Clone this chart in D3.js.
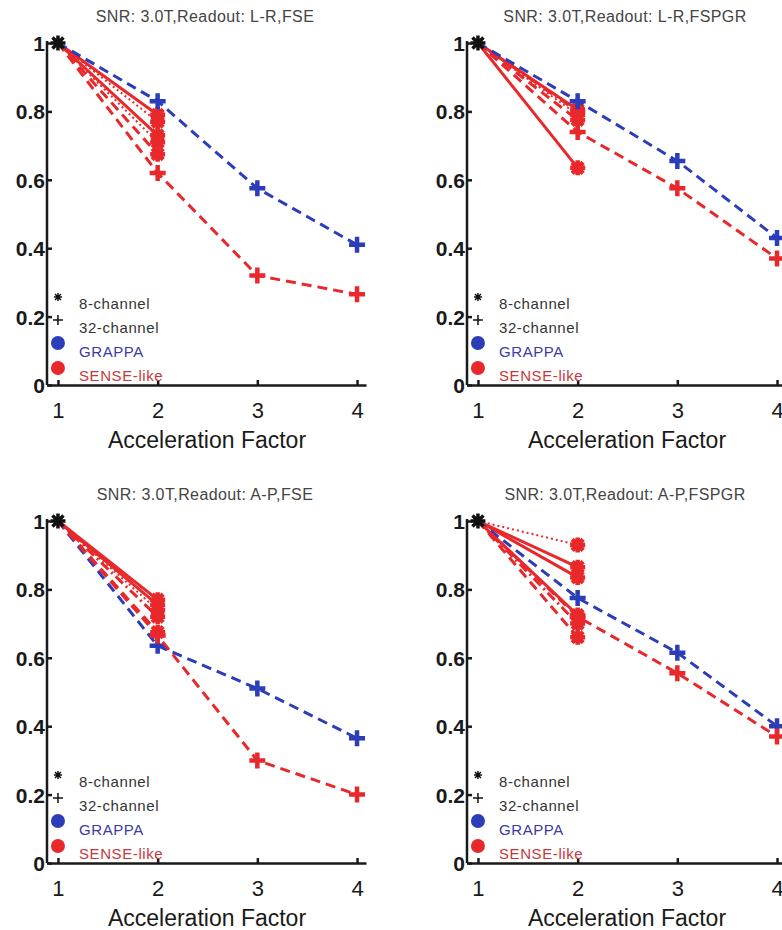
<!DOCTYPE html>
<html>
<head>
<meta charset="utf-8">
<script src="https://cdn.jsdelivr.net/npm/d3@7"></script>
<style>
  body { margin: 0; background: #fff; }
  svg { display: block; }
</style>
</head>
<body>
<svg id="chart" width="782" height="930"></svg>
<script>
const titles = [
  "SNR: 3.0T,Readout: L-R,FSE",
  "SNR: 3.0T,Readout: L-R,FSPGR",
  "SNR: 3.0T,Readout: A-P,FSE",
  "SNR: 3.0T,Readout: A-P,FSPGR"
];
const factors = [1, 2, 3, 4];
const yTicks = [0, 0.2, 0.4, 0.6, 0.8, 1];

// 32-channel, all factors
const grappa32 = [
  [1, 0.83, 0.575, 0.41],
  [1, 0.83, 0.655, 0.43],
  [1, 0.635, 0.51, 0.365],
  [1, 0.775, 0.615, 0.40]
];
const sense32 = [
  [1, 0.62, 0.32, 0.265],
  [1, 0.74, 0.575, 0.37],
  [1, 0.665, 0.30, 0.20],
  [1, 0.72, 0.555, 0.37]
];
// 8-channel SENSE-like, R = 2 only (several coil setups)
const sense8 = [
  [0.79, 0.73, 0.77, 0.71, 0.675],
  [0.805, 0.635, 0.79, 0.775, 0.80],
  [0.77, 0.755, 0.74, 0.72, 0.675],
  [0.93, 0.865, 0.835, 0.725, 0.70, 0.66]
];
const legendLabels = ["8-channel", "32-channel", "GRAPPA", "SENSE-like"];

const blue = "#2b3db8";
const red = "#e8282b";
const dashes = {
  solid: null,
  dashed: "10,6",
  dotted: "2,3",
  dashdot: "10,4,2,4"
};
const sense8Styles = [
  ["solid", "solid", "dotted", "dotted", "dashed"],
  ["solid", "solid", "dotted", "dashed", "dashdot"],
  ["solid", "solid", "dotted", "dashdot", "dashed"],
  ["dotted", "solid", "solid", "solid", "dashdot", "dashed"]
];

const svg = d3.select("#chart");
const origins = [[47, 43], [467, 43], [47, 521], [467, 521]];

const plusPath = "M-8,0H8M0,-8V8";
const starPath = "M-7.5,0H7.5M0,-7.5V7.5M-5.5,-5.5L5.5,5.5M-5.5,5.5L5.5,-5.5";

function drawPanel(i) {
  const [ox, oy] = origins[i];
  const x = d3.scaleLinear().domain([0.89, 4.09]).range([ox, ox + 319]);
  const y = d3.scaleLinear().domain([0, 1]).range([oy + 342, oy]);
  const g = svg.append("g");

  const line = d3.line().x(d => x(d[0])).y(d => y(d[1]));

  // 8-channel lines
  sense8[i].forEach((v, k) => {
    const style = sense8Styles[i][k];
    g.append("path")
      .attr("d", line([[1, 1], [2, v]]))
      .attr("fill", "none")
      .attr("stroke", red)
      .attr("stroke-width", style === "dotted" ? 2 : 3)
      .attr("stroke-dasharray", dashes[style]);
  });
  sense8[i].forEach(v => {
    g.append("path")
      .attr("d", starPath)
      .attr("transform", `translate(${x(2)},${y(v)})`)
      .attr("stroke", red)
      .attr("stroke-width", 4.5)
      .attr("fill", "none");
  });

  // 32-channel lines
  [[grappa32[i], blue], [sense32[i], red]].forEach(([vals, col]) => {
    const pts = factors.map((f, k) => [f, vals[k]]);
    g.append("path")
      .attr("d", line(pts))
      .attr("fill", "none")
      .attr("stroke", col)
      .attr("stroke-width", 3)
      .attr("stroke-dasharray", dashes.dashed);
    g.selectAll(null)
      .data(pts.slice(1))
      .enter()
      .append("path")
      .attr("d", plusPath)
      .attr("transform", d => `translate(${x(d[0])},${y(d[1])})`)
      .attr("stroke", col)
      .attr("stroke-width", 4.5)
      .attr("fill", "none");
  });

  g.append("path")
    .attr("d", starPath)
    .attr("transform", `translate(${x(1)},${y(1)})`)
    .attr("stroke", "#111")
    .attr("stroke-width", 3.5)
    .attr("fill", "none");

  // axes
  const yAxis = g.append("g")
    .attr("transform", `translate(${ox},0)`)
    .call(d3.axisLeft(y).tickValues(yTicks).tickFormat(d3.format("")).tickSizeInner(-5).tickSizeOuter(0).tickPadding(2));
  yAxis.select(".domain").attr("d", `M0,${y(0)}V${y(1) - 2}`);
  yAxis.selectAll("text")
    .attr("dy", "0.36em")
    .style("font-family", "'Liberation Sans', Arial, sans-serif")
    .style("font-size", "21px")
    .style("font-weight", "bold")
    .attr("fill", "#1a1a1a");

  const xAxis = g.append("g")
    .attr("transform", `translate(0,${y(0)})`)
    .call(d3.axisBottom(x).tickValues(factors).tickFormat(d3.format("d")).tickSizeInner(-5).tickSizeOuter(0));
  xAxis.selectAll("text")
    .attr("y", 33)
    .attr("dy", 0)
    .style("font-family", "'Liberation Sans', Arial, sans-serif")
    .style("font-size", "22px")
    .attr("fill", "#1a1a1a");

  g.selectAll(".domain, .tick line")
    .attr("stroke", "#1a1a1a")
    .attr("stroke-width", 2.5);

  g.append("text")
    .attr("x", ox + 160)
    .attr("y", y(0) + 63)
    .attr("text-anchor", "middle")
    .style("font-family", "'Liberation Sans', Arial, sans-serif")
    .style("font-size", "23px")
    .attr("fill", "#1a1a1a")
    .text("Acceleration Factor");

  g.append("text")
    .attr("x", ox + 158)
    .attr("y", oy - 21)
    .attr("text-anchor", "middle")
    .style("font-family", "'Liberation Sans', Arial, sans-serif")
    .style("font-size", "16px")
    .style("letter-spacing", "0.4px")
    .attr("fill", "#444")
    .text(titles[i]);

  // legend
  const lx = x(1);
  const y0 = y(0);
  g.append("path").attr("d", "M-4,0H4M0,-4V4M-3,-3L3,3M-3,3L3,-3")
    .attr("transform", `translate(${lx},${y0 - 88})`)
    .attr("stroke", "#111").attr("stroke-width", 1.5);
  g.append("path").attr("d", "M-5,0H5M0,-5V5")
    .attr("transform", `translate(${lx},${y0 - 65})`)
    .attr("stroke", "#111").attr("stroke-width", 1.5);
  g.append("circle").attr("cx", lx).attr("cy", y0 - 42).attr("r", 7).attr("fill", blue);
  g.append("circle").attr("cx", lx).attr("cy", y0 - 17).attr("r", 7).attr("fill", red);

  const legendColors = ["#333", "#333", "#3a3aa8", "#c8363a"];
  const legendY = [-76, -52, -28, -4];
  legendLabels.forEach((t, k) => {
    g.append("text")
      .attr("x", lx + 21)
      .attr("y", y0 + legendY[k])
      .style("font-family", "'Liberation Sans', Arial, sans-serif")
      .style("font-size", "15px")
      .style("letter-spacing", "0.6px")
      .attr("fill", legendColors[k])
      .text(t);
  });
}

titles.forEach((t, i) => drawPanel(i));
</script>
</body>
</html>
